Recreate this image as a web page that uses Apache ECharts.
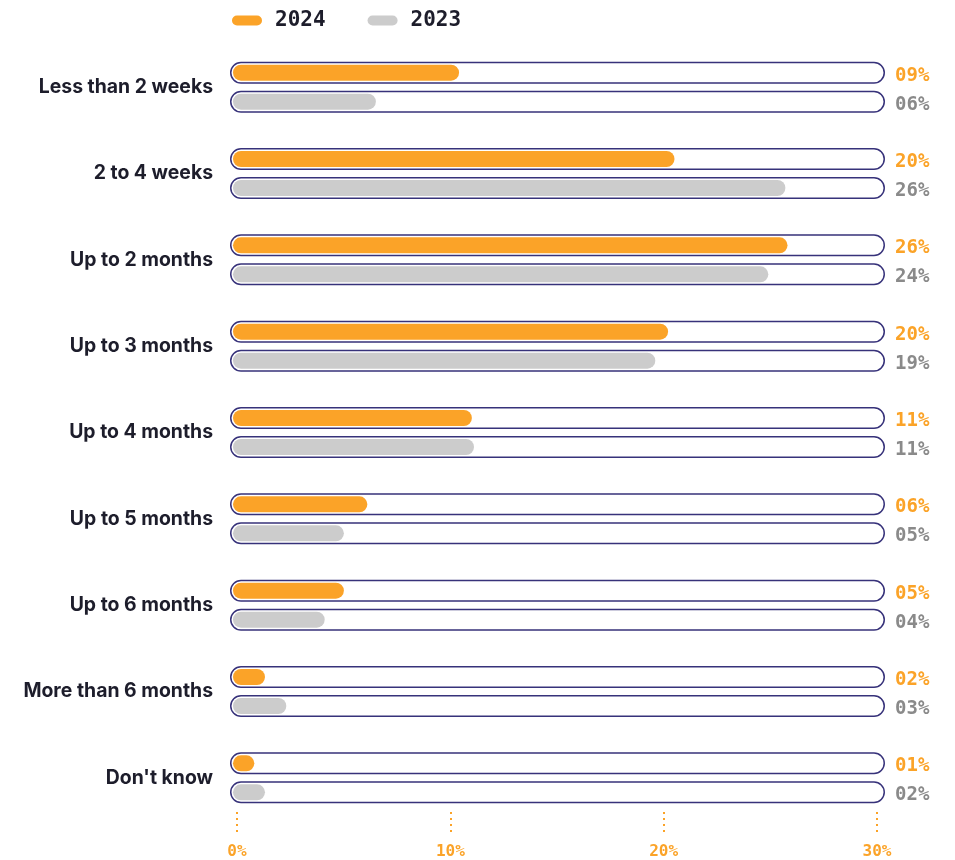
<!DOCTYPE html>
<html>
<head>
<meta charset="utf-8">
<script src="https://cdn.jsdelivr.net/npm/echarts@6/dist/echarts.min.js"></script>
<style>
html,body{margin:0;padding:0;background:#fff;}
#chart{width:955px;height:860px;}
</style>
</head>
<body>
<div id="chart"></div>
<script>
var categories = ['Less than 2 weeks','2 to 4 weeks','Up to 2 months','Up to 3 months','Up to 4 months','Up to 5 months','Up to 6 months','More than 6 months',"Don't know"];
var values2024 = [10.6, 20.7, 26.0, 20.4, 11.2, 6.3, 5.2, 1.5, 1.0];
var values2023 = [6.7, 25.9, 25.1, 19.8, 11.3, 5.2, 4.3, 2.5, 1.5];
var labels2024 = ['09%','20%','26%','20%','11%','06%','05%','02%','01%'];
var labels2023 = ['06%','26%','24%','19%','11%','05%','04%','03%','02%'];
var seriesNames = ['2024','2023'];
var tickMin = 0, tickMax = 30, tickStep = 10;

var ORANGE = '#fba328', GRAY = '#cccccc', NAVY = '#37327a', TEXT = '#1d1d2b';
var MONO = '"DejaVu Sans Mono", monospace';
var trackData = categories.map(function(){ return 1; });
var pill = 'path://M5,0 L25,0 A5,5 0 0 1 25,10 L5,10 A5,5 0 0 1 5,0 Z';

var chart = echarts.init(document.getElementById('chart'));
chart.setOption({
  backgroundColor: '#fff',
  animation: false,
  legend: {
    data: [{name: seriesNames[0], icon: pill}, {name: seriesNames[1], icon: pill}],
    left: 227, top: 5,
    itemWidth: 30, itemHeight: 11, itemGap: 42,
    textStyle: {fontFamily: MONO, fontWeight: 'bold', fontSize: 21, color: TEXT, padding: [0,0,0,8]}
  },
  grid: [
    {left: 230, right: 70, top: 44, bottom: 39},
    {left: 237, right: 78, top: 812, height: 24}
  ],
  xAxis: [
    {type: 'value', gridIndex: 0, min: -0.14, max: 30.57, show: false},
    {type: 'value', gridIndex: 0, min: 0, max: 1, show: false},
    {type: 'value', gridIndex: 1, min: tickMin, max: tickMax, interval: tickStep,
     axisLine: {show: false}, axisTick: {show: false},
     splitLine: {show: true, lineStyle: {color: ORANGE, width: 2, type: [2, 4]}},
     axisLabel: {margin: 8, color: ORANGE, fontFamily: MONO, fontWeight: 'bold', fontSize: 16,
       formatter: function(v){ return v + '%'; }}}
  ],
  yAxis: [
    {type: 'category', gridIndex: 0, data: categories, inverse: true,
     axisLine: {show: false}, axisTick: {show: false}, splitLine: {show: false},
     axisLabel: {margin: 17, color: TEXT, fontFamily: 'Inter', fontWeight: 'bold', fontSize: 19.4, padding: [0,0,4,0]}},
    {type: 'category', gridIndex: 0, data: categories, inverse: true, show: false},
    {type: 'value', gridIndex: 1, show: false}
  ],
  series: [
    {name: 'track2024', type: 'bar', xAxisIndex: 1, yAxisIndex: 0, data: trackData, z: 1, silent: true,
     barWidth: 22, barGap: '31.8%',
     itemStyle: {color: '#fff', borderColor: NAVY, borderWidth: 1.5, borderRadius: 11},
     label: {show: true, position: 'right', distance: 10, offset: [0, 3], color: ORANGE, fontFamily: MONO, fontWeight: 'bold', fontSize: 19,
       formatter: function(p){ return labels2024[p.dataIndex]; }}},
    {name: 'track2023', type: 'bar', xAxisIndex: 1, yAxisIndex: 0, data: trackData, z: 1, silent: true,
     barWidth: 22, barGap: '31.8%',
     itemStyle: {color: '#fff', borderColor: NAVY, borderWidth: 1.5, borderRadius: 11},
     label: {show: true, position: 'right', distance: 10, offset: [0, 3], color: '#8a8a8a', fontFamily: MONO, fontWeight: 'bold', fontSize: 19,
       formatter: function(p){ return labels2023[p.dataIndex]; }}},
    {name: seriesNames[0], type: 'bar', xAxisIndex: 0, yAxisIndex: 1, data: values2024, z: 3,
     barWidth: 16, barGap: '81.25%',
     itemStyle: {color: ORANGE, borderRadius: 8}},
    {name: seriesNames[1], type: 'bar', xAxisIndex: 0, yAxisIndex: 1, data: values2023, z: 3,
     barWidth: 16, barGap: '81.25%',
     itemStyle: {color: GRAY, borderRadius: 8}}
  ]
});
</script>
</body>
</html>
